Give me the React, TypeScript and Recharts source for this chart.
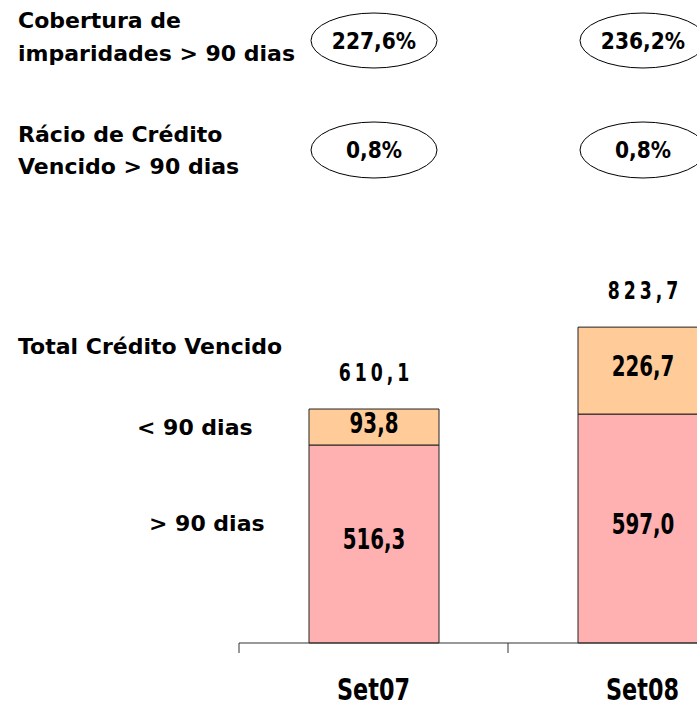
import { BarChart, Bar, XAxis, YAxis, LabelList } from 'recharts'

// ─── Dados ──────────────────────────────────────────────────────────────────
const periods = ['Set07', 'Set08']
const over90 = [516.3, 597.0]
const under90 = [93.8, 226.7]
const totals = [610.1, 823.7]
const coverage = ['227,6%', '236,2%']
const ratio = ['0,8%', '0,8%']

const data = periods.map((p, i) => ({
  period: p,
  over90: over90[i],
  under90: under90[i],
  total: totals[i],
  coverage: coverage[i],
  ratio: ratio[i],
}))

const COND = "'DejaVu Sans Condensed', 'DejaVu Sans', sans-serif"
const SANS = "'DejaVu Sans', sans-serif"
const W = 800
const H = 709
const M = { top: 259.5, right: 23, bottom: 0, left: 239 }
const HALF_BAND = (W - M.left - M.right) / periods.length / 2

const fmt = (v: any) => Number(v).toFixed(1).replace('.', ',')

// texto estreito e alto (fonte condensada comprimida na horizontal)
function Narrow({ x, y, size, sx = 0.76, spacing = 0, family = COND, children }: any) {
  return (
    <text
      transform={`translate(${x},${y}) scale(${sx},1)`}
      textAnchor="middle"
      fontFamily={family}
      fontStretch={family === COND ? 'condensed' : 'normal'}
      fontWeight="bold"
      fontSize={size}
      letterSpacing={spacing}
      fill="#000"
    >
      {children}
    </text>
  )
}

function CategoryTick({ x, y, payload, index }: any) {
  return (
    <g>
      <line x1={x - HALF_BAND} x2={x - HALF_BAND} y1={y} y2={y + 10} stroke="#333" />
      {index === periods.length - 1 && (
        <line x1={x + HALF_BAND} x2={x + HALF_BAND} y1={y} y2={y + 10} stroke="#333" />
      )}
      <Narrow x={x} y={y + 57} size={31} sx={0.8}>
        {payload.value}
      </Narrow>
    </g>
  )
}

// ellipse com percentagem, centrada na coluna
const ellipseLabel = (cy: number, ry: number) => (props: any) => {
  const { x, width, value } = props
  const cx = Number(x) + Number(width) / 2
  return (
    <g>
      <ellipse cx={cx} cy={cy} rx={63} ry={ry} fill="#fff" stroke="#000" strokeWidth={1} />
      <Narrow x={cx} y={cy + 8} size={23} sx={0.88} family={SANS}>
        {value}
      </Narrow>
    </g>
  )
}

function InnerLabel(props: any) {
  const { x, y, width, height, value } = props
  return (
    <Narrow x={Number(x) + Number(width) / 2} y={Number(y) + Number(height) / 2 + 5.5} size={29} sx={0.76}>
      {fmt(value)}
    </Narrow>
  )
}

function TotalLabel(props: any) {
  const { x, y, width, value } = props
  return (
    <Narrow x={Number(x) + Number(width) / 2 + 2} y={Number(y) - 28} size={24} sx={0.8} spacing={5}>
      {fmt(value)}
    </Narrow>
  )
}

const sideText: React.CSSProperties = {
  position: 'absolute',
  fontFamily: SANS,
  fontWeight: 'bold',
  fontSize: 22,
  color: '#000',
  whiteSpace: 'nowrap',
}

export default function App() {
  return (
    <div style={{ position: 'absolute', left: 0, top: 0, width: 697, height: 709, overflow: 'hidden', background: '#fff' }}>
      <BarChart width={W} height={H} data={data} margin={M} barSize={130}>
        <XAxis
          dataKey="period"
          height={66}
          tickSize={0}
          tickMargin={0}
          tickLine={false}
          axisLine={{ stroke: '#333' }}
          tick={<CategoryTick />}
          interval={0}
        />
        <YAxis hide domain={[0, 1000]} />
        <Bar dataKey="over90" stackId="a" fill="#FFB0B0" stroke="#222" strokeWidth={1} isAnimationActive={false}>
          <LabelList dataKey="over90" content={<InnerLabel />} />
        </Bar>
        <Bar dataKey="under90" stackId="a" fill="#FFCC99" stroke="#222" strokeWidth={1} isAnimationActive={false}>
          <LabelList dataKey="under90" content={<InnerLabel />} />
          <LabelList dataKey="total" content={<TotalLabel />} />
          <LabelList dataKey="coverage" content={ellipseLabel(40.5, 27.5)} />
          <LabelList dataKey="ratio" content={ellipseLabel(150, 28)} />
        </Bar>
      </BarChart>
      <div style={{ ...sideText, left: 18, top: 4, lineHeight: '33px' }}>
        Cobertura de
        <br />
        imparidades &gt; 90 dias
      </div>
      <div style={{ ...sideText, left: 18, top: 119, lineHeight: '32px' }}>
        Rácio de Crédito
        <br />
        Vencido &gt; 90 dias
      </div>
      <div style={{ ...sideText, left: 18, top: 331, lineHeight: '32px' }}>Total Crédito Vencido</div>
      <div style={{ ...sideText, left: 137, top: 412, lineHeight: '32px' }}>&lt; 90 dias</div>
      <div style={{ ...sideText, left: 149, top: 508, lineHeight: '32px' }}>&gt; 90 dias</div>
    </div>
  )
}
